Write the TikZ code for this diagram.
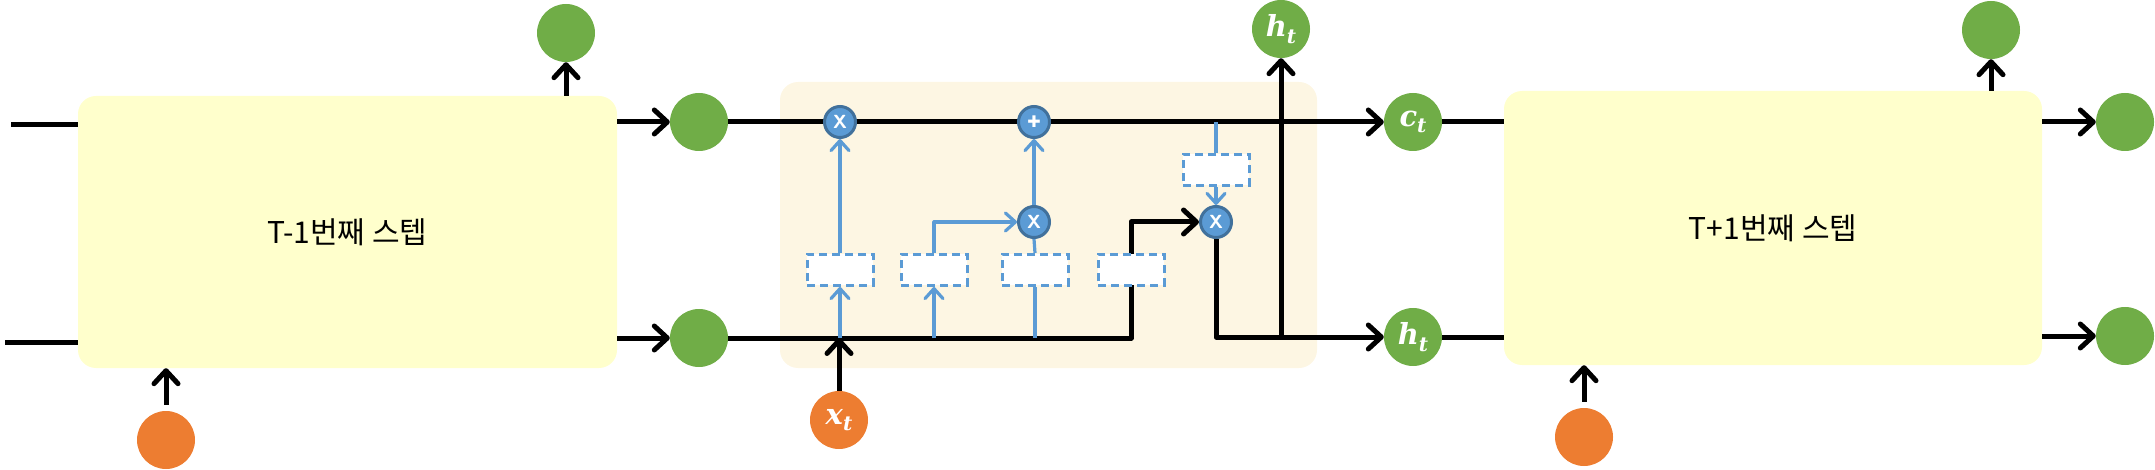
\documentclass[tikz,border=0pt]{standalone}
\usepackage{fontspec}
\newfontfamily\krfont{Noto Sans CJK KR}
\newfontfamily\djv{DejaVu Sans}
\newfontfamily\djs{DejaVu Serif}
\newcommand{\lbl}[2]{{\djs\bfseries\itshape\fontsize{29}{31}\selectfont #1\raisebox{-0.22em}{\fontsize{20}{22}\selectfont #2}}}
\usetikzlibrary{arrows.meta,calc}
\definecolor{grn}{HTML}{70AD47}
\definecolor{orng}{HTML}{ED7D31}
\definecolor{boxy}{HTML}{FFFFCC}
\definecolor{cellc}{HTML}{FDF6E3}
\definecolor{bl}{HTML}{5B9BD5}
\definecolor{dbl}{HTML}{41719C}
\pgfdeclarelayer{bg}
\pgfdeclarelayer{ln}
\pgfsetlayers{bg,ln,main}
\begin{document}
\begin{tikzpicture}[x=1pt,y=-1pt,
  stepbox/.style={fill=boxy, draw=none, rounded corners=18pt, inner sep=0pt},
  cellbox/.style={fill=cellc, draw=none, rounded corners=18pt, inner sep=0pt},
  gdot/.style={circle, fill=grn, draw=none, minimum size=58pt, inner sep=0pt, text=white},
  odot/.style={circle, fill=orng, draw=none, minimum size=58pt, inner sep=0pt, text=white},
  op/.style={circle, fill=bl, draw=dbl, line width=3pt, minimum size=31pt, inner sep=0pt, text=white, font=\sffamily\bfseries\fontsize{19}{21}\selectfont},
  gate/.style={rectangle, fill=white, draw=bl, line width=3pt, dash pattern=on 8pt off 5pt, minimum width=66pt, minimum height=31pt, inner sep=0pt},
  blk/.style={line width=5pt, draw=black, line join=round},
  blu/.style={line width=3.2pt, draw=bl, line join=round},
  barr/.style={-{Straight Barb[length=13pt,width=24pt,round]}},
  sarr/.style={-{Straight Barb[length=10pt,width=18pt,round]}}
]
\useasboundingbox (0,0) rectangle (2155,470);

\begin{pgfonlayer}{bg}
\node[stepbox, minimum width=539pt, minimum height=272pt, font=\krfont\fontsize{30}{34}\selectfont] (T1) at (347.5,232) {T-1번째 스텝};
\node[stepbox, minimum width=538pt, minimum height=274pt, font=\krfont\fontsize{30}{34}\selectfont] (T2) at (1773,228) {T+1번째 스텝};
\node[cellbox, minimum width=537pt, minimum height=286pt] (cell) at (1048.5,225) {};
\end{pgfonlayer}

% circles
\node[gdot] (g1) at (699,122) {};
\node[gdot] (g2) at (699,338) {};
\node[gdot] (gt1) at (566,33) {};
\node[gdot] (Ct) at (1413,122) {\lbl{c}{t}};
\node[gdot] (ht) at (1413,337) {\lbl{h}{t}};
\node[gdot] (htop) at (1281,29) {\lbl{h}{t}};
\node[gdot] (gt2) at (1991,30) {};
\node[gdot] (gr1) at (2125,122) {};
\node[gdot] (gr2) at (2125,336) {};
\node[odot] (o1) at (166,440) {};
\node[odot] (xt) at (839,420) {\lbl{x}{t}};
\node[odot] (o2) at (1584,437) {};

% operators
\node[op] (X1) at (840,122) {X};
\node[op, font=\djv\fontsize{16}{18}\selectfont] (P) at (1034,122) {✚};
\node[op] (X2) at (1034,222) {X};
\node[op] (X3) at (1216,222) {X};

% gates
\node[gate] (B1) at (840,270) {};
\node[gate] (B2) at (934,270) {};
\node[gate] (B3) at (1035,270) {};
\node[gate] (B4) at (1131,270) {};
\node[gate] (B5) at (1216,170) {};

\coordinate (s1) at (11,125);
\coordinate (s2) at (5,342);

\begin{pgfonlayer}{ln}
% T-1 step
\draw[blk] (s1) -- (s1 -| T1.west);
\draw[blk] (s2) -- (s2 -| T1.west);
\draw[blk, barr] (T1.east |- g1) -- (g1.west);
\draw[blk, barr] (T1.east |- g2) -- (g2.west);
\draw[blk, barr] (gt1 |- T1.north) -- (gt1.south);
\draw[blk, barr, shorten <=6pt] (o1.north) -- (o1 |- T1.south);
% cell
\draw[blk, barr] (g1.east) -- (Ct.west);
\draw[blk, barr] (g2.east) -- (B4 |- g2) |- (X3.west);
\draw[blk, barr] (X3.south) |- (ht.west);
\draw[blk, barr] (htop |- ht) -- (htop.south);
\draw[blk, barr] (xt.north) -- (xt.north |- g2);
% blue
\draw[blu, sarr] (B1.south |- g2) -- (B1.south);
\draw[blu, sarr] (B1.north) -- (X1.south);
\draw[blu, sarr] (B2.south |- g2) -- (B2.south);
\draw[blu, sarr] (B2.north) |- (X2.west);
\draw[blu] (B3.south |- g2) -- (B3.south);
\draw[blu] (B3.north) -- (X2.south);
\draw[blu, sarr] (X2.north) -- (P.south);
\draw[blu] (B5.north |- Ct) -- (B5.north);
\draw[blu, sarr] (B5.south) -- (X3.north);
% T+1 step
\draw[blk] (Ct.east) -- (Ct -| T2.west);
\draw[blk] (ht.east) -- (ht -| T2.west);
\draw[blk, barr] (T2.east |- gr1) -- (gr1.west);
\draw[blk, barr] (T2.east |- gr2) -- (gr2.west);
\draw[blk, barr] (gt2 |- T2.north) -- (gt2.south);
\draw[blk, barr, shorten <=6pt] (o2.north) -- (o2 |- T2.south);
\end{pgfonlayer}
\end{tikzpicture}
\end{document}
